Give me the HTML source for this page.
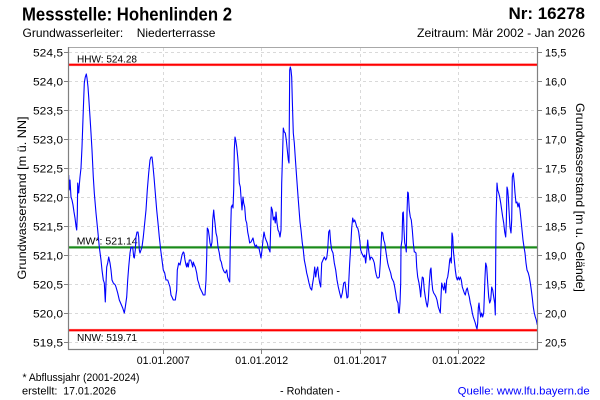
<!DOCTYPE html>
<html>
<head>
<meta charset="utf-8">
<style>
  html,body{margin:0;padding:0;background:#fff;}
  svg{display:block;}
  text{font-family:"Liberation Sans",Arial,sans-serif;fill:#000;}
</style>
</head>
<body>
<svg width="600" height="400" viewBox="0 0 600 400" xmlns="http://www.w3.org/2000/svg">
  <rect x="0" y="0" width="600" height="400" fill="#fff"/>

  <!-- Header -->
  <text x="22" y="20.5" font-size="18" font-weight="bold" textLength="210" lengthAdjust="spacingAndGlyphs">Messstelle: Hohenlinden 2</text>
  <text x="585" y="19" font-size="17" font-weight="bold" text-anchor="end">Nr: 16278</text>
  <text x="22.5" y="37" font-size="12">Grundwasserleiter:</text>
  <text x="136.7" y="37" font-size="12">Niederterrasse</text>
  <text x="585" y="37" font-size="12" text-anchor="end" textLength="168" lengthAdjust="spacingAndGlyphs">Zeitraum: Mär 2002 - Jan 2026</text>

  <!-- Horizontal grid -->
  <g stroke="#d9d9d9" stroke-width="1" stroke-dasharray="3,3">
    <line x1="69" y1="52.5" x2="537" y2="52.5"/>
    <line x1="69" y1="81.5" x2="537" y2="81.5"/>
    <line x1="69" y1="110.5" x2="537" y2="110.5"/>
    <line x1="69" y1="139.5" x2="537" y2="139.5"/>
    <line x1="69" y1="168.5" x2="537" y2="168.5"/>
    <line x1="69" y1="197.5" x2="537" y2="197.5"/>
    <line x1="69" y1="226.5" x2="537" y2="226.5"/>
    <line x1="69" y1="255.5" x2="537" y2="255.5"/>
    <line x1="69" y1="284.5" x2="537" y2="284.5"/>
    <line x1="69" y1="313.5" x2="537" y2="313.5"/>
    <line x1="69" y1="342.5" x2="537" y2="342.5"/>
    <!-- vertical -->
    <line x1="163.5" y1="48" x2="163.5" y2="349"/>
    <line x1="261.5" y1="48" x2="261.5" y2="349"/>
    <line x1="360.5" y1="48" x2="360.5" y2="349"/>
    <line x1="458.5" y1="48" x2="458.5" y2="349"/>
  </g>

  <!-- Reference lines -->
  <line x1="69" y1="64.7" x2="537" y2="64.7" stroke="#ffc8c8" stroke-width="3"/>
  <line x1="69" y1="64.7" x2="537" y2="64.7" stroke="#ff0000" stroke-width="2"/>
  <line x1="69" y1="330.2" x2="537" y2="330.2" stroke="#ffc8c8" stroke-width="3"/>
  <line x1="69" y1="330.2" x2="537" y2="330.2" stroke="#ff0000" stroke-width="2"/>
  <line x1="69" y1="247.4" x2="537" y2="247.4" stroke="#c8e4c8" stroke-width="3"/>
  <line x1="69" y1="247.4" x2="537" y2="247.4" stroke="#1a8a1a" stroke-width="2"/>

  <text x="77" y="62.5" font-size="10.5" textLength="60" lengthAdjust="spacingAndGlyphs">HHW: 524.28</text>
  <text x="76.7" y="244.5" font-size="10.5" textLength="61" lengthAdjust="spacingAndGlyphs">MW*: 521.14</text>
  <text x="77" y="341" font-size="10.5" textLength="60" lengthAdjust="spacingAndGlyphs">NNW: 519.71</text>

  <!-- Data line -->
  <defs><clipPath id="pc"><rect x="68" y="47" width="469" height="302"/></clipPath></defs>
  <polyline clip-path="url(#pc)" fill="none" stroke="#0000ff" stroke-width="1.1" stroke-linejoin="round"
   points="68.7,175 69.3,190 70,180 71,197 72,200 73,205 74,212 75,218 76,226 76.7,230 77.3,215 77.7,183 78.7,193 79.3,185 80,177 81,168 82,147 82.7,127 83.3,110 84.3,83 85.3,77 86.3,74 87,78 88,87 88.7,97 90,117 91,133 92,150 93.3,177 94.3,193 96,213 97.7,230 99.3,247 101,260 102,270 103.3,280 104.3,283 105.3,302 106,283 106.7,267 107.7,263 108.7,257 110,263 111,270 112,280 113.3,283 115.3,285 116,287 117.7,293 119.3,300 122.7,308 124.3,313 125.3,307 126.7,297 127.7,280 128.7,267 130,253 131,247 132,248 132.7,247 133.7,257 134.3,258 135.3,250 136,237 137,232 138,232 138.7,237 139.3,250 140,253 141,250 142,247 143.3,237 144.7,223 146,210 147.3,190 148.7,173 150,160 151,157 152,157 152.7,163 154,177 155.3,193 156.7,210 158,223 159.3,237 160.7,250 162,260 163.3,270 164.7,273 166,280 167.7,280 168.7,283 170,287 171,295 172,297 173.3,300 175.3,300 176.7,290 177.3,270 178.7,263 180,265 181,260 182,255 183.3,252 184,253 185,260 186,265 186.7,267 187.3,263 188.3,267 189.3,260 190.7,260 191.7,263 192.7,267 193.3,262 194.3,265 195.3,267 196.7,273 197.7,280 198.7,283 200,288 201,290 202,292 203.3,295 205,295 206,280 206.7,257 207.3,228 208.3,230 209.3,237 210,243 211,247 212,242 212.7,220 213.7,210 214.3,217 215,223 216,233 217,237 218,247 219.3,253 220.3,260 221.3,262 222.3,267 223.3,270 224.3,272 225.3,273 226.7,270 227.7,277 228.7,280 229.7,282 230.3,243 231.3,207 232.3,205 233,208 233.7,190 234.3,150 235,137 235.7,140 236.7,147 237.7,157 238.7,170 239.3,183 240.3,187 241,197 242,210 243,197 243.7,203 244.7,207 245.7,220 246.7,223 247.7,232 248.7,237 249.7,243 251,242 252,240 253,238 254,243 255.3,247 256.3,245 257.7,248 258.7,247 260,253 261,258 262,250 263,240 264,232 265,237 266,240 267.3,243 268.3,248 269.3,250 270,252 270.7,227 271.3,207 272.3,210 273.3,220 274.3,217 275.3,223 276,212 277,223 278,230 279,232 280,237 281,230 281.7,183 282.7,150 283.3,128 284.3,132 285.3,133 286.3,140 287.3,150 288.3,160 289,163 289.7,70 290.3,67 291,70 291.7,77 292.3,100 293.3,133 294.3,143 295.3,158 296.7,178 298.3,200 300,222 301,230 302.3,243 303.3,250 304.3,260 305.7,267 306.7,273 307.7,277 309,283 310.3,288 311.7,290 312.7,283 313.7,277 314.7,267 315.7,277 316.7,270 317.7,267 318.7,277 319.7,283 320.7,287 321.7,263 323,260 324.3,257 325.7,260 326.7,258 327.7,250 328.7,232 329.7,230 330.7,243 331.7,250 333,253 334.3,263 335.7,270 337,280 338.3,287 339.7,293 341,298 342.3,293 343.7,283 345,282 346,290 347,298 348,297 348.7,283 349.7,263 350.7,247 351.7,228 352.7,218 353.7,222 354.7,220 355.7,223 356.7,227 357.7,228 358.7,232 359.7,240 360.7,250 361.7,253 362.7,255 363.7,257 364.7,255 365.7,263 366.7,253 367.7,240 368.3,247 369,253 370,260 371,257 372.3,258 373.3,260 374.3,263 375.3,270 376.3,275 377.3,278 378.3,278 379.3,277 380.3,263 381,247 381.7,232 382.7,233 383.7,240 384.7,243 385.7,250 386.7,257 387.7,263 388.7,267 389.7,270 390.7,273 391.7,278 392.7,280 393.7,282 394.7,287 395.7,293 396.7,300 398,303 398.7,313 399.3,313 400,303 400.7,283 401,247 402,240 402.7,213 403.3,212 404,230 404.7,243 405.7,247 406.3,252 407,213 407.7,192 408.3,193 409.3,210 410.3,217 411.3,220 412.3,230 413.3,243 414.3,252 415,252 416,253 416.7,267 417.7,277 419,283 420,290 420.7,297 421.7,283 422.3,277 423.3,278 424.3,290 425.3,297 426.3,303 427.3,307 428.3,300 429.3,283 430.3,270 431,268 431.7,280 432.7,290 433.7,293 435,295 436,297 437,300 438.3,307 439.3,310 440.3,313 441,297 441.7,283 442.7,287 443.7,290 444.7,283 445.7,293 446.7,280 447.7,277 448.7,270 449.7,260 450.3,258 451.3,263 452,233 452.7,237 453.3,250 454.3,260 455.3,270 456.3,277 457.3,280 458.3,277 459.3,280 460.3,277 461.3,280 462.3,287 463.3,290 464.3,293 465.3,295 466.3,290 467.3,288 468.3,293 469.3,297 470.3,303 471.3,307 472.3,313 473.3,317 474.3,320 475.3,323 476.3,327 477,329 477.7,323 478.3,308 479,303 479.7,310 480.7,317 481.7,313 482.7,317 483.7,313 484.3,297 485,277 485.7,263 486.7,267 487.7,283 488.7,297 489.7,303 490.7,300 491.7,287 492.7,290 493.7,297 494.7,303 495.3,315 496,223 497,183 497.7,190 498.7,193 499.7,197 500.7,203 501.7,210 502.7,217 503.7,223 504.7,232 505.7,237 506.3,223 507,187 507.7,190 508.3,197 509,210 510,227 511,233 511.7,220 512.3,177 513.3,173 514.3,183 515,193 516,203 517,202 518,207 519,203 520,210 521,220 522,230 523,240 524,247 525,253 526,263 527,270 528.3,273 529.3,277 530.3,283 531.3,290 532.3,298 533.3,307 534.3,313 535.3,317 536.3,320 537.3,325"/>

  <!-- Frame / axes -->
  <line x1="68" y1="47.5" x2="537" y2="47.5" stroke="#a8a8a8" stroke-width="1"/>
  <line x1="68.5" y1="47" x2="68.5" y2="350" stroke="#808080" stroke-width="1.2"/>
  <line x1="537.5" y1="47" x2="537.5" y2="350" stroke="#808080" stroke-width="1.2"/>
  <line x1="68" y1="349.5" x2="538" y2="349.5" stroke="#808080" stroke-width="1.2"/>

  <!-- Ticks -->
  <g stroke="#808080" stroke-width="1">
    <line x1="64" y1="52.5" x2="68" y2="52.5"/>
    <line x1="64" y1="81.5" x2="68" y2="81.5"/>
    <line x1="64" y1="110.5" x2="68" y2="110.5"/>
    <line x1="64" y1="139.5" x2="68" y2="139.5"/>
    <line x1="64" y1="168.5" x2="68" y2="168.5"/>
    <line x1="64" y1="197.5" x2="68" y2="197.5"/>
    <line x1="64" y1="226.5" x2="68" y2="226.5"/>
    <line x1="64" y1="255.5" x2="68" y2="255.5"/>
    <line x1="64" y1="284.5" x2="68" y2="284.5"/>
    <line x1="64" y1="313.5" x2="68" y2="313.5"/>
    <line x1="64" y1="342.5" x2="68" y2="342.5"/>
    <line x1="538" y1="52.5" x2="542" y2="52.5"/>
    <line x1="538" y1="81.5" x2="542" y2="81.5"/>
    <line x1="538" y1="110.5" x2="542" y2="110.5"/>
    <line x1="538" y1="139.5" x2="542" y2="139.5"/>
    <line x1="538" y1="168.5" x2="542" y2="168.5"/>
    <line x1="538" y1="197.5" x2="542" y2="197.5"/>
    <line x1="538" y1="226.5" x2="542" y2="226.5"/>
    <line x1="538" y1="255.5" x2="542" y2="255.5"/>
    <line x1="538" y1="284.5" x2="542" y2="284.5"/>
    <line x1="538" y1="313.5" x2="542" y2="313.5"/>
    <line x1="538" y1="342.5" x2="542" y2="342.5"/>
    <line x1="163.5" y1="350" x2="163.5" y2="354"/>
    <line x1="261.5" y1="350" x2="261.5" y2="354"/>
    <line x1="360.5" y1="350" x2="360.5" y2="354"/>
    <line x1="458.5" y1="350" x2="458.5" y2="354"/>
  </g>

  <!-- Left tick labels -->
  <g font-size="11" text-anchor="end">
    <text x="63" y="56.5" textLength="30" lengthAdjust="spacingAndGlyphs">524,5</text>
    <text x="63" y="85.5" textLength="30" lengthAdjust="spacingAndGlyphs">524,0</text>
    <text x="63" y="114.5" textLength="30" lengthAdjust="spacingAndGlyphs">523,5</text>
    <text x="63" y="143.5" textLength="30" lengthAdjust="spacingAndGlyphs">523,0</text>
    <text x="63" y="172.5" textLength="30" lengthAdjust="spacingAndGlyphs">522,5</text>
    <text x="63" y="201.5" textLength="30" lengthAdjust="spacingAndGlyphs">522,0</text>
    <text x="63" y="230.5" textLength="30" lengthAdjust="spacingAndGlyphs">521,5</text>
    <text x="63" y="259.5" textLength="30" lengthAdjust="spacingAndGlyphs">521,0</text>
    <text x="63" y="288.5" textLength="30" lengthAdjust="spacingAndGlyphs">520,5</text>
    <text x="63" y="317.5" textLength="30" lengthAdjust="spacingAndGlyphs">520,0</text>
    <text x="63" y="346.5" textLength="30" lengthAdjust="spacingAndGlyphs">519,5</text>
  </g>

  <!-- Right tick labels -->
  <g font-size="11">
    <text x="545" y="56.5">15,5</text>
    <text x="545" y="85.5">16,0</text>
    <text x="545" y="114.5">16,5</text>
    <text x="545" y="143.5">17,0</text>
    <text x="545" y="172.5">17,5</text>
    <text x="545" y="201.5">18,0</text>
    <text x="545" y="230.5">18,5</text>
    <text x="545" y="259.5">19,0</text>
    <text x="545" y="288.5">19,5</text>
    <text x="545" y="317.5">20,0</text>
    <text x="545" y="346.5">20,5</text>
  </g>

  <!-- X tick labels -->
  <g font-size="11" text-anchor="middle">
    <text x="163.3" y="364" textLength="53" lengthAdjust="spacingAndGlyphs">01.01.2007</text>
    <text x="261.7" y="364" textLength="53" lengthAdjust="spacingAndGlyphs">01.01.2012</text>
    <text x="360.3" y="364" textLength="53" lengthAdjust="spacingAndGlyphs">01.01.2017</text>
    <text x="458.7" y="364" textLength="53" lengthAdjust="spacingAndGlyphs">01.01.2022</text>
  </g>

  <!-- Axis titles -->
  <text transform="translate(26,198) rotate(-90)" font-size="12" text-anchor="middle" textLength="163" lengthAdjust="spacingAndGlyphs">Grundwasserstand [m ü. NN]</text>
  <text transform="translate(576,197.5) rotate(90)" font-size="12" text-anchor="middle" textLength="189" lengthAdjust="spacingAndGlyphs">Grundwasserstand [m u. Gelände]</text>

  <!-- Footer -->
  <text x="22.5" y="381" font-size="11" textLength="117" lengthAdjust="spacingAndGlyphs">* Abflussjahr (2001-2024)</text>
  <text x="22" y="394.5" font-size="11">erstellt:</text>
  <text x="63.3" y="394.5" font-size="11" textLength="52.7" lengthAdjust="spacingAndGlyphs">17.01.2026</text>
  <text x="280" y="394.5" font-size="11" textLength="60" lengthAdjust="spacingAndGlyphs">- Rohdaten -</text>
  <text x="457.7" y="394.5" font-size="11" style="fill:#0000ff" textLength="132" lengthAdjust="spacingAndGlyphs">Quelle: www.lfu.bayern.de</text>
</svg>
</body>
</html>
